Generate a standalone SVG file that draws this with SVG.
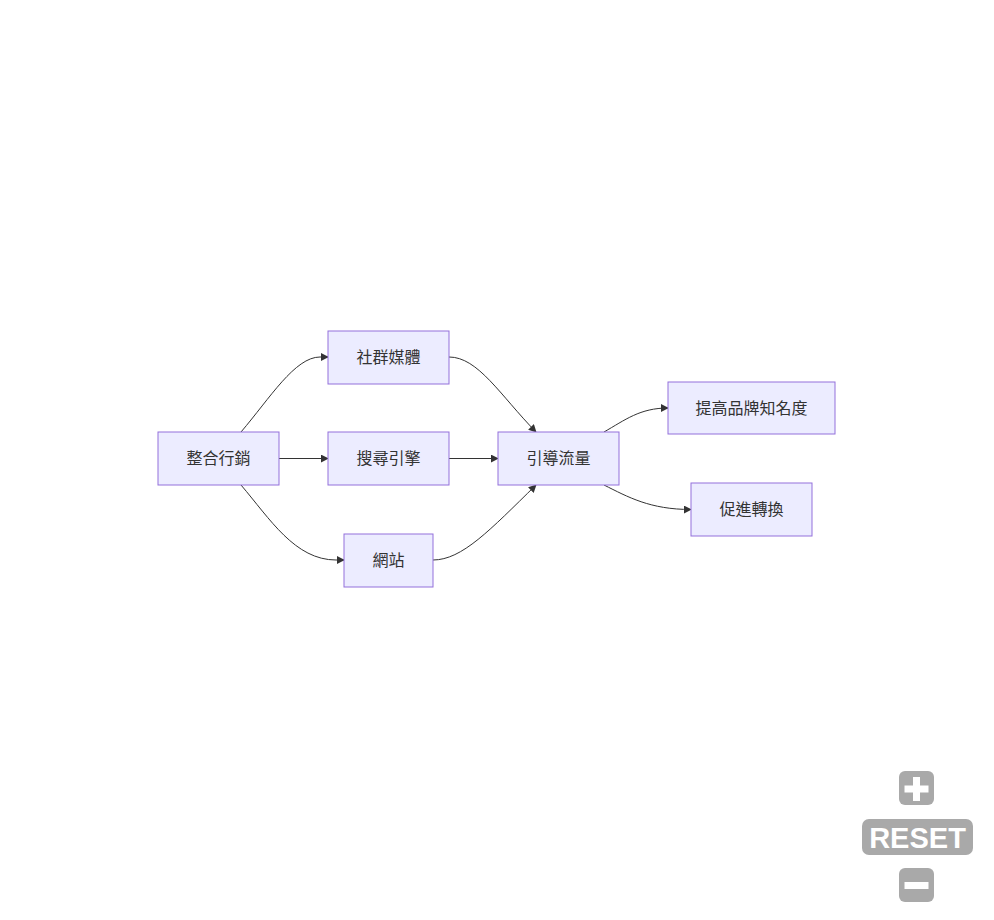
<svg xmlns="http://www.w3.org/2000/svg" width="994" height="920" viewBox="0 0 994 920">
<style>
.node rect{fill:#ECECFF;stroke:#9370DB;stroke-width:1px}
.node text{font-family:"Liberation Sans","Noto Sans CJK TC",sans-serif;font-size:16px;fill:#333;text-anchor:middle;dominant-baseline:central}
.edges path{fill:none;stroke:#333;stroke-width:1px}
.btn{fill:#a9a9a9}
.btxt{font-family:"Liberation Sans",Arial,sans-serif;font-weight:bold;font-size:29px;fill:#fff;text-anchor:middle}
.ico{stroke:#fff;stroke-width:7;fill:none}
</style>
<defs>
<marker id="arrow" viewBox="0 0 10 10" refX="9" refY="5" markerWidth="8" markerHeight="8" markerUnits="userSpaceOnUse" orient="auto">
<path d="M0,0 L10,5 L0,10 z" fill="#333"/>
</marker>
</defs>
<rect width="994" height="920" fill="#fff"/>
<g class="edges">
<path d="M241,432 C270,398 295,357 320,357 L328,357" marker-end="url(#arrow)"/>
<path d="M279,458.5 L328,458.5" marker-end="url(#arrow)"/>
<path d="M241,485 C270,519 295,560 336,560 L344,560" marker-end="url(#arrow)"/>
<path d="M449,357 C478,357 500,395 536,432" marker-end="url(#arrow)"/>
<path d="M449,458.5 L498,458.5" marker-end="url(#arrow)"/>
<path d="M433,560 C462,560 490,530 536,485" marker-end="url(#arrow)"/>
<path d="M604,432 C625,420 640,408 668,408" marker-end="url(#arrow)"/>
<path d="M604,485 C628,497 650,509.5 691,509.5" marker-end="url(#arrow)"/>
</g>
<g id="n1" class="node"><rect x="158" y="432" width="121" height="53"/><text x="218.5" y="458.5">整合行銷</text></g>
<g id="n2" class="node"><rect x="328" y="331" width="121" height="53"/><text x="388.5" y="357.5">社群媒體</text></g>
<g id="n3" class="node"><rect x="328" y="432" width="121" height="53"/><text x="388.5" y="458.5">搜尋引擎</text></g>
<g id="n4" class="node"><rect x="344" y="534" width="89" height="53"/><text x="388.5" y="560.5">網站</text></g>
<g id="n5" class="node"><rect x="498" y="432" width="121" height="53"/><text x="558.5" y="458.5">引導流量</text></g>
<g id="n6" class="node"><rect x="668" y="382" width="167" height="52"/><text x="751.5" y="408">提高品牌知名度</text></g>
<g id="n7" class="node"><rect x="691" y="483" width="121" height="53"/><text x="751.5" y="509.5">促進轉換</text></g>
<g id="controls">
<rect class="btn" x="899" y="771" width="35" height="34" rx="6"/>
<path class="ico" d="M904.5,789 h24 M916.5,777 v24"/>
<rect class="btn" x="862" y="819" width="111" height="36" rx="7"/>
<text class="btxt" x="917.5" y="847.5">RESET</text>
<rect class="btn" x="899" y="868" width="35" height="34" rx="6"/>
<path class="ico" d="M904.5,885.5 h24"/>
</g>
</svg>
